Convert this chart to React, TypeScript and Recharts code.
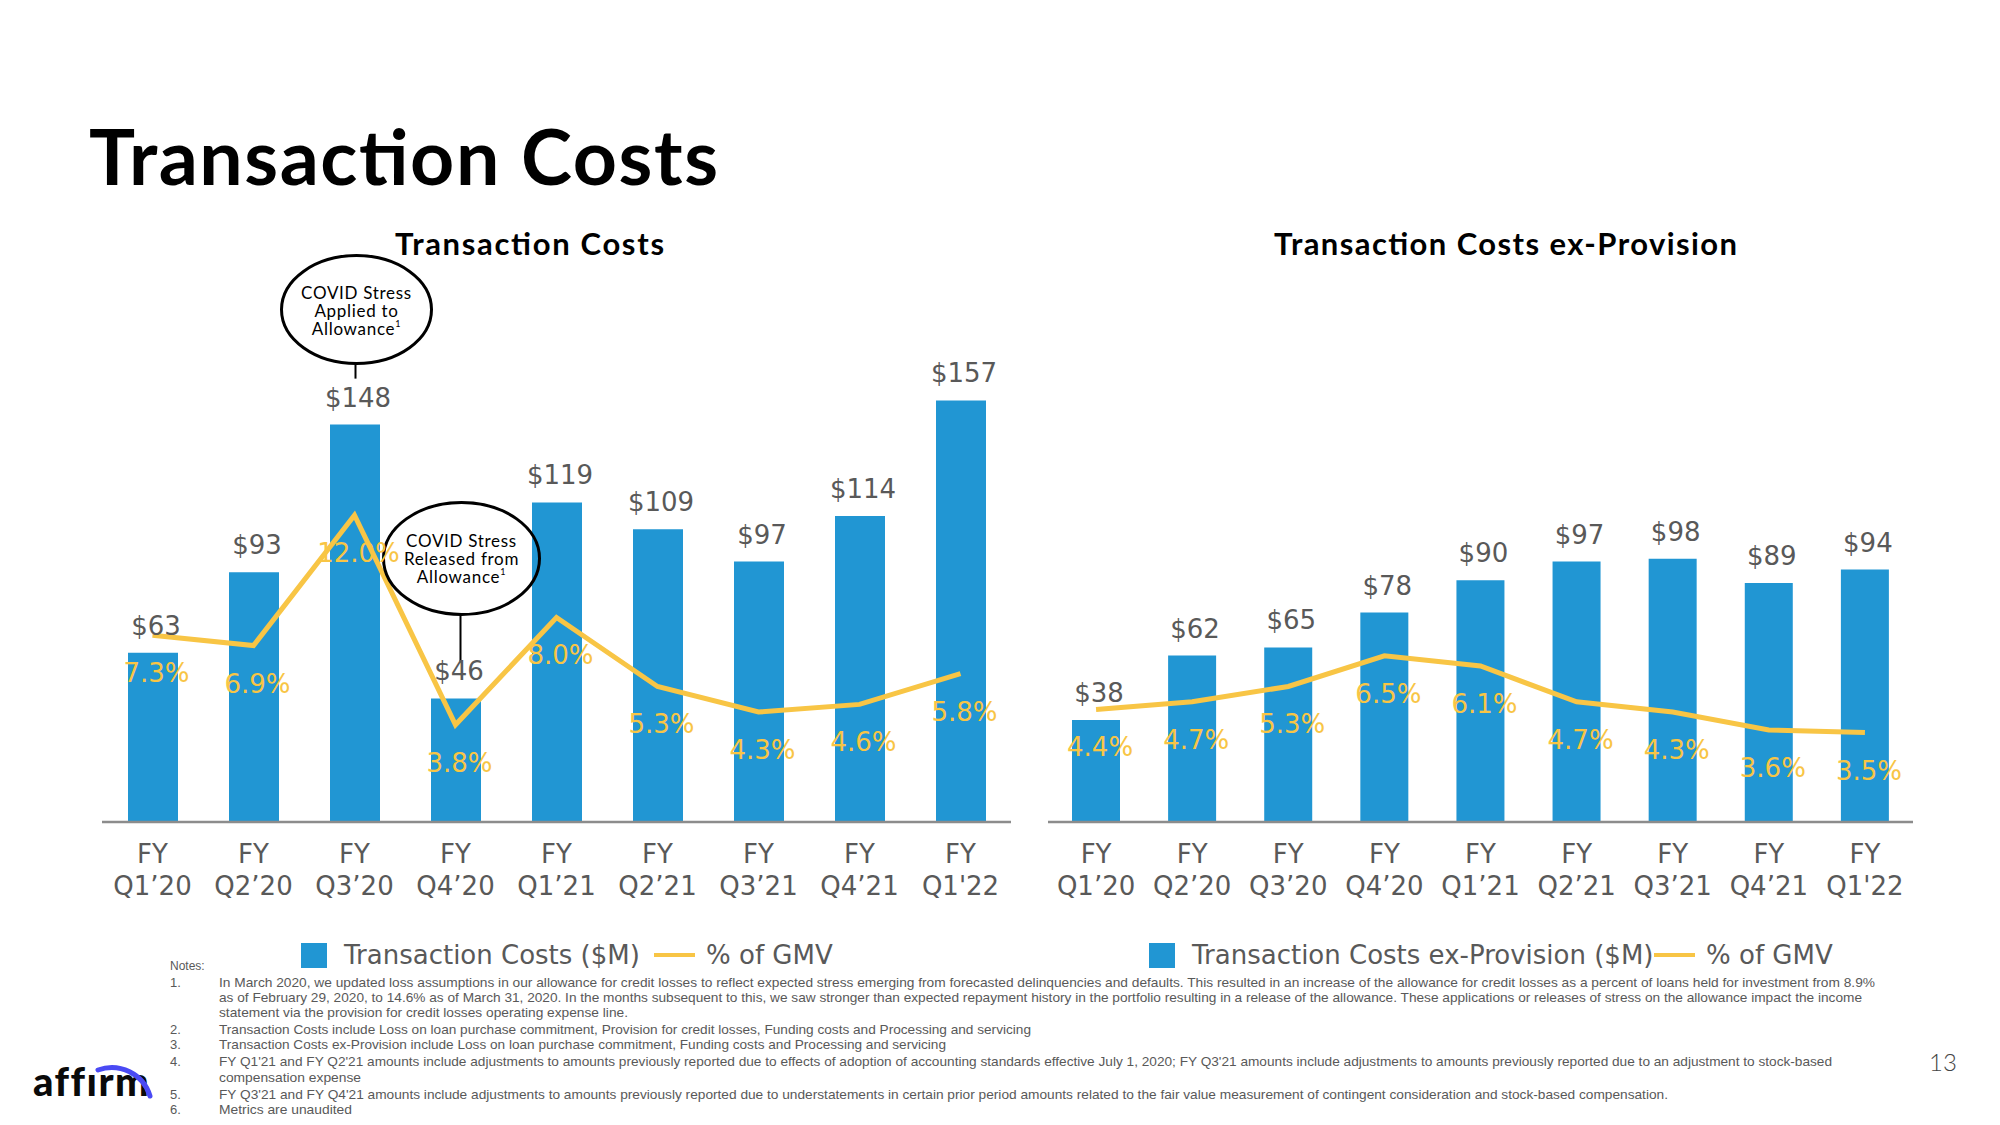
import { ComposedChart, Bar, Line, XAxis, YAxis, LabelList, ReferenceDot } from "recharts";

const quarters = ["Q1’20", "Q2’20", "Q3’20", "Q4’20", "Q1’21", "Q2’21", "Q3’21", "Q4’21", "Q1'22"];
const txnCosts = [63, 93, 148, 46, 119, 109, 97, 114, 157];
const txnPctGmv = [7.3, 6.9, 12.0, 3.8, 8.0, 5.3, 4.3, 4.6, 5.8];
const exProvCosts = [38, 62, 65, 78, 90, 97, 98, 89, 94];
const exProvPctGmv = [4.4, 4.7, 5.3, 6.5, 6.1, 4.7, 4.3, 3.6, 3.5];

const appliedNote = ["COVID Stress", "Applied to", "Allowance"];
const releasedNote = ["COVID Stress", "Released from", "Allowance"];

const notes: [string, string[]][] = [
  ["1.", [
    "In March 2020, we updated loss assumptions in our allowance for credit losses to reflect expected stress emerging from forecasted delinquencies and defaults. This resulted in an increase of the allowance for credit losses as a percent of loans held for investment from 8.9%",
    "as of February 29, 2020, to 14.6% as of March 31, 2020. In the months subsequent to this, we saw stronger than expected repayment history in the portfolio resulting in a release of the allowance. These applications or releases of stress on the allowance impact the income",
    "statement via the provision for credit losses operating expense line.",
  ]],
  ["2.", ["Transaction Costs include Loss on loan purchase commitment, Provision for credit losses, Funding costs and Processing and servicing"]],
  ["3.", ["Transaction Costs ex-Provision include Loss on loan purchase commitment, Funding costs and Processing and servicing"]],
  ["4.", [
    "FY Q1'21 and FY Q2'21 amounts include adjustments to amounts previously reported due to effects of adoption of accounting standards effective July 1, 2020; FY Q3'21 amounts include adjustments to amounts previously reported due to an adjustment to stock-based",
    "compensation expense",
  ]],
  ["5.", ["FY Q3'21 and FY Q4'21 amounts include adjustments to amounts previously reported due to understatements in certain prior period amounts related to the fair value measurement of contingent consideration and stock-based compensation."]],
  ["6.", ["Metrics are unaudited"]],
];
// rendered widths of each note line, in px
const noteWidths = [1656, 1643, 409, 812, 727, 1613, 142, 1449, 133];

const C = {
  blue: "#2196d3",
  gold: "#f8c545",
  grey: "#595959",
  axis: "#8c8c8c",
  mono: "'DejaVu Sans', sans-serif",
  sans: "Lato, 'Open Sans', sans-serif",
};

const MT = 100;     // room above plot for the callouts
const PLOT_H = 537;
const AXIS_H = 100;

function QuarterTick(props: { x?: number; y?: number; payload?: { value: string } }) {
  const { x = 0, y = 0, payload } = props;
  return (
    <g fill={C.grey} fontFamily={C.mono} fontSize={26} textAnchor="middle">
      <text x={x} y={y + 41}>FY</text>
      <text x={x} y={y + 73}>{payload?.value}</text>
    </g>
  );
}

function Callout(props: { cx?: number; cy?: number; lines: string[]; dx: number; up: number; rx: number; ry: number; stem: number }) {
  const { cx = 0, cy = 0, lines, dx, up, rx, ry, stem } = props;
  const ex = cx + dx;
  const ey = cy - up;
  return (
    <g>
      <ellipse cx={ex} cy={ey} rx={rx} ry={ry} fill="none" stroke="#000" strokeWidth={3} />
      <line x1={ex - 1} x2={ex - 1} y1={ey + ry} y2={cy - stem} stroke="#000" strokeWidth={2} />
      {lines.map((l, i) => (
        <text key={i} x={ex} y={ey - 11 + i * 18} textAnchor="middle" fontFamily={C.sans} fontSize={17} letterSpacing={0.7} fill="#000">
          {l}
          {i === lines.length - 1 && <tspan fontSize={9} dy={-8}>1</tspan>}
        </text>
      ))}
    </g>
  );
}

function Panel({ left, width, barSize, costs, pcts, withCallouts }: {
  left: number; width: number; barSize: number; costs: number[]; pcts: number[]; withCallouts?: boolean;
}) {
  const data = quarters.map((q, i) => ({ q, cost: costs[i], pct: pcts[i] }));
  return (
    <div style={{ position: "absolute", left, top: 821.5 - PLOT_H - MT }}>
      <ComposedChart width={width} height={MT + PLOT_H + AXIS_H} data={data} margin={{ top: MT, right: 0, bottom: 0, left: 0 }}>
        <XAxis dataKey="q" height={AXIS_H} tick={<QuarterTick />} tickLine={false} tickSize={0} tickMargin={0}
          axisLine={{ stroke: C.axis, strokeWidth: 2.5 }} interval={0} />
        <YAxis yAxisId="usd" hide domain={[0, 200]} />
        <YAxis yAxisId="pct" hide domain={[0, 21]} orientation="right" />
        <Bar yAxisId="usd" dataKey="cost" fill={C.blue} barSize={barSize} isAnimationActive={false}>
          <LabelList dataKey="cost" content={(p: any) => (
            <text x={p.x + p.width / 2 + 3} y={p.y - 18} textAnchor="middle" fontFamily={C.mono} fontSize={26} fill={C.grey}>
              ${p.value}
            </text>
          )} />
        </Bar>
        <Line yAxisId="pct" dataKey="pct" type="linear" stroke={C.gold} strokeWidth={5} dot={false} isAnimationActive={false}>
          <LabelList dataKey="pct" content={(p: any) => (
            <text x={p.x + 4} y={p.y + 47} textAnchor="middle" fontFamily={C.mono} fontSize={26} fill={C.gold}>
              {Number(p.value).toFixed(1)}%
            </text>
          )} />
        </Line>
        {withCallouts && (
          <ReferenceDot yAxisId="usd" x={quarters[2]} y={costs[2]} r={0}
            shape={(p: any) => <Callout cx={p.cx} cy={p.cy} lines={appliedNote} dx={2} up={115} rx={75} ry={54} stem={46} />} />
        )}
        {withCallouts && (
          <ReferenceDot yAxisId="usd" x={quarters[3]} y={costs[3]} r={0}
            shape={(p: any) => <Callout cx={p.cx} cy={p.cy} lines={releasedNote} dx={6} up={140} rx={78} ry={56} stem={37} />} />
        )}
      </ComposedChart>
    </div>
  );
}

function LegendRow({ x, label, lineX }: { x: number; label: string; lineX: number }) {
  return (
    <g fontFamily={C.mono} fontSize={26} fill={C.grey}>
      <rect x={x} y={943} width={26} height={25} fill={C.blue} />
      <text x={x + 43} y={964}>{label}</text>
      <rect x={lineX} y={953} width={41} height={4} fill={C.gold} />
      <text x={lineX + 52} y={964}>% of GMV</text>
    </g>
  );
}

export default function App() {
  let row = 0;
  const noteY = [982, 997.4, 1012.7, 1029.3, 1044.6, 1061.2, 1077.8, 1094.4, 1109.7];
  return (
    <div style={{ position: "absolute", left: 0, top: 0, width: 2000, height: 1125, background: "#fff", overflow: "hidden" }}>
      <svg width={2000} height={1125} style={{ position: "absolute", left: 0, top: 0 }}>
        <text x={89} y={185} fontFamily={C.sans} fontWeight={700} fontSize={77} fill="#000" textLength={629} lengthAdjust="spacing">Transaction Costs</text>
        <text x={395} y={255} fontFamily={C.sans} fontWeight={700} fontSize={31} fill="#000" textLength={269} lengthAdjust="spacing">Transaction Costs</text>
        <text x={1274} y={255} fontFamily={C.sans} fontWeight={700} fontSize={31} fill="#000" textLength={463} lengthAdjust="spacing">Transaction Costs ex-Provision</text>

        <LegendRow x={301} label="Transaction Costs ($M)" lineX={654} />
        <LegendRow x={1149} label="Transaction Costs ex-Provision ($M)" lineX={1654} />

        <g fontFamily="'Liberation Sans', Arial, sans-serif" fill={C.grey}>
          <text x={170} y={970} fontSize={12}>Notes:</text>
          {notes.map(([num, lines]) => (
            <g key={num}>
              <text x={170} y={noteY[row] + 4.5} fontSize={13}>{num}</text>
              {lines.map((l) => {
                const i = row++;
                return (
                  <text key={i} x={219} y={noteY[i] + 4.5} fontSize={13} textLength={noteWidths[i]} lengthAdjust="spacingAndGlyphs">{l}</text>
                );
              })}
            </g>
          ))}
        </g>

        <text x={1929} y={1071} fontFamily={C.sans} fontWeight={300} fontSize={24} fill="#444">13</text>

        <g>
          <text x={33} y={1096} fontFamily={C.sans} fontWeight={900} fontSize={40} letterSpacing={1.5} fill="#0a0a0a">affırm</text>
          <path d="M 98 1070 A 40 40 0 0 1 150 1096" fill="none" stroke="#4a4af4" strokeWidth={5} strokeLinecap="round" />
        </g>
      </svg>

      <Panel left={102} width={909} barSize={50} costs={txnCosts} pcts={txnPctGmv} withCallouts />
      <Panel left={1048} width={865} barSize={48} costs={exProvCosts} pcts={exProvPctGmv} />
    </div>
  );
}
